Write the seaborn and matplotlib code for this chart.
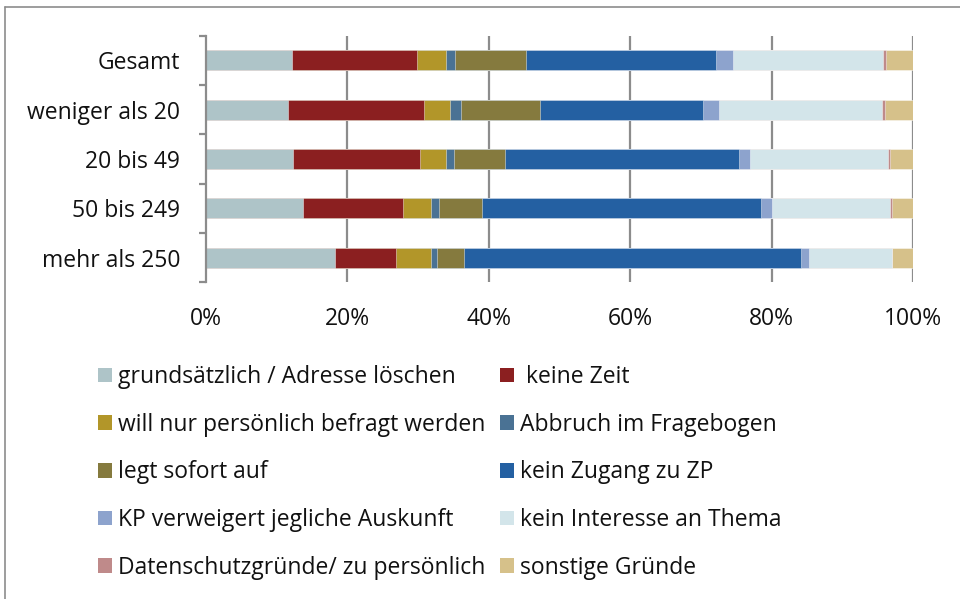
import numpy as np
import pandas as pd
import matplotlib
matplotlib.use("Agg")
import matplotlib.pyplot as plt
import seaborn as sns
from matplotlib.patches import Patch
from matplotlib.lines import Line2D

groups = ["Gesamt", "weniger als 20", "20 bis 49", "50 bis 249", "mehr als 250"]

reasons = [
    "grundsätzlich / Adresse löschen",
    " keine Zeit",
    "will nur persönlich befragt werden",
    "Abbruch im Fragebogen",
    "legt sofort auf",
    "kein Zugang zu ZP",
    "KP verweigert jegliche Auskunft",
    "kein Interesse an Thema",
    "Datenschutzgründe/ zu persönlich",
    "sonstige Gründe",
]

grundsaetzlich = [12.1, 11.6, 12.3, 13.7, 18.2]
keine_zeit = [17.7, 19.2, 18.0, 14.2, 8.7]
persoenlich = [4.1, 3.7, 3.7, 3.9, 4.9]
abbruch = [1.3, 1.5, 1.1, 1.2, 0.9]
legt_auf = [10.1, 11.3, 7.2, 6.0, 3.8]
kein_zugang = [26.9, 23.0, 33.1, 39.5, 47.6]
kp_verweigert = [2.3, 2.3, 1.5, 1.5, 1.2]
kein_interesse = [21.3, 23.0, 19.6, 16.8, 11.7]
datenschutz = [0.4, 0.5, 0.3, 0.3, 0.0]
sonstige = [3.8, 3.9, 3.2, 2.9, 3.0]

colors = ["#AEC4C8", "#8B1F20", "#B29629", "#4A7294", "#857A3E",
          "#2460A2", "#8DA3CD", "#D3E5EA", "#BF8A8A", "#D6C18A"]

xticks = [0, 20, 40, 60, 80, 100]
xtick_labels = ["0%", "20%", "40%", "60%", "80%", "100%"]

series = [grundsaetzlich, keine_zeit, persoenlich, abbruch, legt_auf,
          kein_zugang, kp_verweigert, kein_interesse, datenschutz, sonstige]
cum = np.cumsum(np.array(series), axis=0)

sns.set_theme(style="white")
plt.rcParams["font.family"] = ["Open Sans", "DejaVu Sans"]
FS = 16.5

fig = plt.figure(figsize=(9.6, 5.99), dpi=100)
ax = fig.add_axes([206 / 960, 1 - 282.3 / 599, (913 - 206) / 960, (282.3 - 35.7) / 599])

for i in reversed(range(len(reasons))):
    df = pd.DataFrame({"group": groups, "value": cum[i]})
    sns.barplot(data=df, x="value", y="group", color=colors[i], width=0.41,
                saturation=1, edgecolor=(1, 1, 1, 0.5), linewidth=0.6, ax=ax,
                orient="h")

ax.set_xlim(0, 100)
ax.set_ylim(4.5, -0.5)
ax.set_xlabel("")
ax.set_ylabel("")

grid_c = "#8C8C8C"
for x in xticks[1:]:
    ax.axvline(x, color=grid_c, lw=1.6, zorder=0)
ax.set_axisbelow(True)

ax.set_xticks(xticks)
ax.set_xticklabels(xtick_labels, fontsize=FS, color="#111111")
ax.tick_params(axis="x", length=0, pad=18)

ax.set_yticks(np.arange(-0.5, 5, 1.0))
ax.set_yticklabels([])
ax.set_yticks(np.arange(len(groups)), minor=True)
ax.set_yticklabels(groups, minor=True, fontsize=FS, color="#111111")
ax.tick_params(axis="y", which="major", length=5, width=1.6, color=grid_c, direction="out", left=True)
ax.tick_params(axis="y", which="minor", length=0, pad=18.5)

for s in ["top", "right", "bottom"]:
    ax.spines[s].set_visible(False)
ax.spines["left"].set_color(grid_c)
ax.spines["left"].set_linewidth(1.6)

# outer chart frame
fig.add_artist(Line2D([5 / 960, 5 / 960], [0, 1 - 7 / 599], transform=fig.transFigure, color="#8C8C8C", lw=1.2))
fig.add_artist(Line2D([5 / 960, 1], [1 - 7 / 599, 1 - 7 / 599], transform=fig.transFigure, color="#8C8C8C", lw=1.2))

handles = [Patch(facecolor=c, edgecolor="none") for c in colors]
left_idx = [0, 2, 4, 6, 8]
right_idx = [1, 3, 5, 7, 9]
for idx, xpos in [(left_idx, 89), (right_idx, 491)]:
    leg = fig.legend([handles[i] for i in idx], [reasons[i] for i in idx],
                     loc="upper left", bbox_to_anchor=(xpos / 960, 1 - 356 / 599),
                     frameon=False, fontsize=FS, handlelength=0.6, handleheight=0.6,
                     handletextpad=0.25, labelspacing=1.03, borderaxespad=0)
    for t in leg.get_texts():
        t.set_color("#111111")

fig.savefig("out.png", dpi=100)
